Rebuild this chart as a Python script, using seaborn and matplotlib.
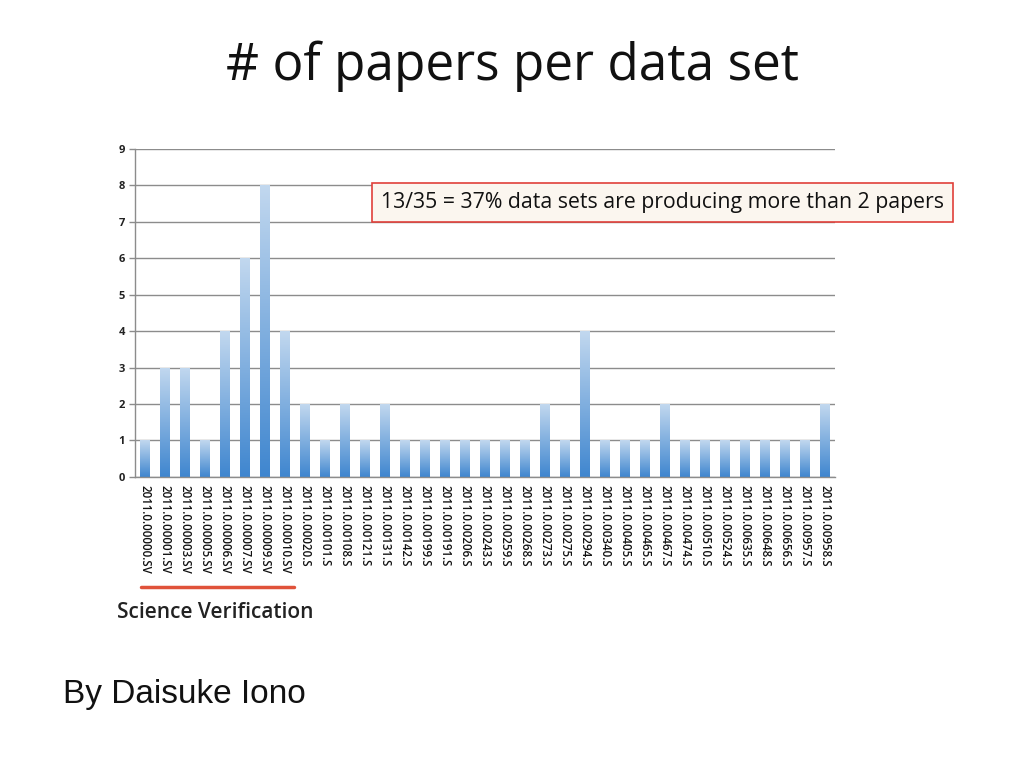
import numpy as np
import pandas as pd

import matplotlib.pyplot as plt
import matplotlib.colors as mcolors
import seaborn as sns

# %% data
datasets = [
    "2011.0.00000.SV", "2011.0.00001.SV", "2011.0.00003.SV", "2011.0.00005.SV",
    "2011.0.00006.SV", "2011.0.00007.SV", "2011.0.00009.SV", "2011.0.00010.SV",
    "2011.0.00020.S", "2011.0.00101.S", "2011.0.00108.S", "2011.0.00121.S",
    "2011.0.00131.S", "2011.0.00142.S", "2011.0.00199.S", "2011.0.00191.S",
    "2011.0.00206.S", "2011.0.00243.S", "2011.0.00259.S", "2011.0.00268.S",
    "2011.0.00273.S", "2011.0.00275.S", "2011.0.00294.S", "2011.0.00340.S",
    "2011.0.00405.S", "2011.0.00465.S", "2011.0.00467.S", "2011.0.00474.S",
    "2011.0.00510.S", "2011.0.00524.S", "2011.0.00635.S", "2011.0.00648.S",
    "2011.0.00656.S", "2011.0.00957.S", "2011.0.00958.S",
]
papers = [1, 3, 3, 1, 4, 6, 8, 4, 2, 1, 2, 1, 2, 1, 1, 1, 1, 1, 1, 1,
          2, 1, 4, 1, 1, 1, 2, 1, 1, 1, 1, 1, 1, 1, 2]
y_ticks = list(range(0, 10))

df = pd.DataFrame({"dataset": datasets, "papers": papers})

# %% plot
sns.set_style("white")
plt.rcParams["font.family"] = ["Open Sans", "DejaVu Sans"]

fig = plt.figure(figsize=(10.24, 7.68), dpi=100)
ax = fig.add_axes([0.132, 0.379, 0.683, 0.427])

sns.barplot(data=df, x="dataset", y="papers", color="#5b9bd5", width=0.5,
            ax=ax, zorder=2)

# vertical gradient fill like the original spreadsheet bars
grad_cmap = mcolors.LinearSegmentedColormap.from_list(
    "bar", ["#3f86cf", "#c2d8ef"])
grad = np.linspace(0, 1, 256).reshape(-1, 1)
for p in ax.patches:
    x0, y0 = p.get_x(), p.get_y()
    w, h = p.get_width(), p.get_height()
    p.set_facecolor("none")
    p.set_edgecolor("none")
    im = ax.imshow(grad, cmap=grad_cmap, aspect="auto", origin="lower",
                   extent=[x0, x0 + w, y0, y0 + h], zorder=2)
    im.set_clip_path(p)

ax.set_xlim(-0.5, len(datasets) - 0.5)
ax.set_ylim(0, 9)
ax.set_yticks(y_ticks)
ax.set_yticklabels([str(t) for t in y_ticks], fontsize=8, fontweight="bold",
                   color="#222222")
ax.yaxis.grid(True, color="#8c8c8c", linewidth=1.0, zorder=0)
ax.set_axisbelow(True)

ax.set_xticks(range(len(datasets)))
ax.set_xticklabels(datasets, rotation=270, fontsize=8.3, color="#111111",
                   fontweight="semibold")
ax.tick_params(axis="x", length=0, pad=6)
ax.set_xticks(np.arange(-0.5, len(datasets), 1), minor=True)
ax.tick_params(axis="x", which="minor", length=4, color="#8c8c8c", width=1)
ax.tick_params(axis="y", length=4, color="#8c8c8c", width=1, left=True)
ax.set_xlabel("")
ax.set_ylabel("")

for side in ["top", "right"]:
    ax.spines[side].set_visible(False)
for side in ["left", "bottom"]:
    ax.spines[side].set_color("#8c8c8c")
    ax.spines[side].set_linewidth(1.0)

# title and annotations
fig.text(0.5, 0.914, "# of papers per data set", ha="center", va="center",
         fontsize=37, color="#111111")

fig.text(0.647, 0.736, "13/35 = 37% data sets are producing more than 2 papers",
         ha="center", va="center", fontsize=15.3, color="#111111",
         bbox=dict(boxstyle="square,pad=0.42", facecolor="#fbf6ef",
                   edgecolor="#e0403a", linewidth=1.2))

fig.add_artist(plt.Line2D([141 / 1024, 294 / 1024], [1 - 587 / 768, 1 - 587 / 768],
                          color="#e0523a", linewidth=2.5))
fig.text(117 / 1024, 1 - 613 / 768, "Science Verification", ha="left",
         va="center", fontsize=15, fontweight="semibold", color="#222222")

fig.text(63 / 1024, 1 - 695 / 768, "By Daisuke Iono", ha="left", va="center",
         fontsize=24, color="#111111", family=["Liberation Sans", "DejaVu Sans"])

fig.savefig("out.png", dpi=100)
